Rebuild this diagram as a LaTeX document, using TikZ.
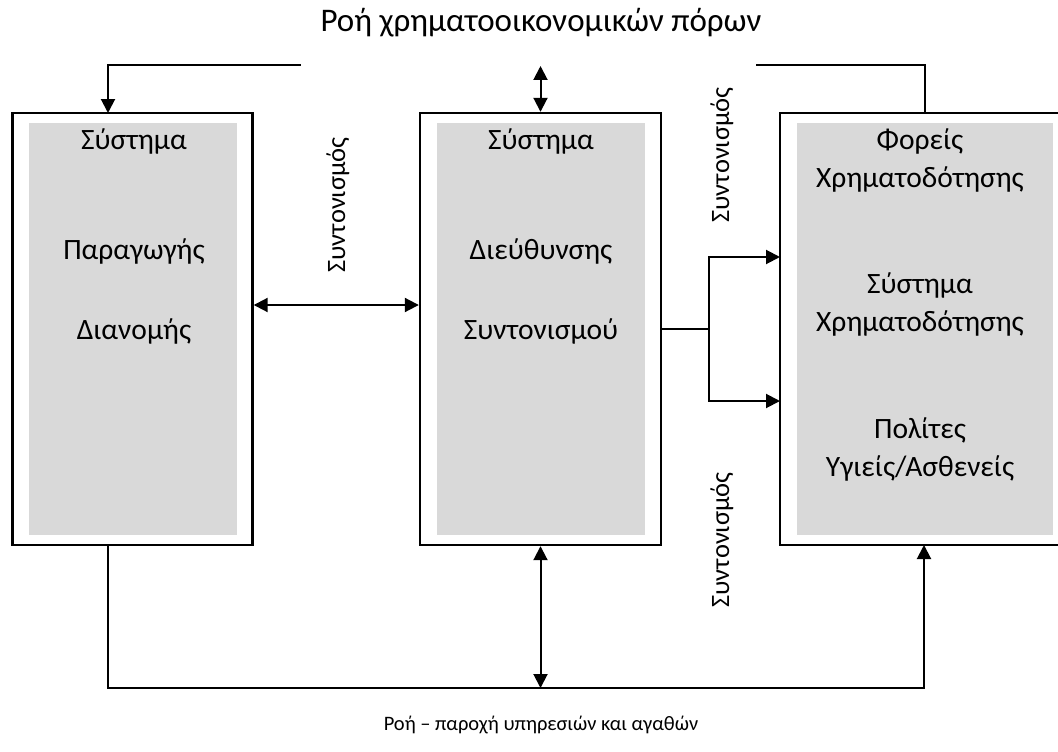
\documentclass[tikz,border=0pt]{standalone}
\usepackage{fontspec}
\setmainfont{Carlito}
\usetikzlibrary{arrows.meta}
\definecolor{boxgrey}{HTML}{D9D9D9}
\begin{document}
\begin{tikzpicture}[x=1pt,y=-1pt,
  outerbox/.style={draw=black, line width=2.4pt, fill=white, inner sep=0pt},
  innerbox/.style={fill=boxgrey, draw=none, inner sep=0pt},
  conn/.style={line width=2pt, line cap=rect},
  tipend/.style={-{Triangle[length=14pt,width=14pt]}},
  tipboth/.style={{Triangle[length=14pt,width=14pt]}-{Triangle[length=14pt,width=14pt]}},
  boxtext/.style={font=\fontsize{29.5}{34}\selectfont, align=center, inner sep=0pt},
  sidelabel/.style={font=\fontsize{26.5}{30}\selectfont, rotate=90, inner sep=0pt},
  flowlabel/.style={inner sep=0pt}]
\useasboundingbox (0,0) rectangle (1058,752);

% boxes
\node[outerbox, minimum width=240pt, minimum height=432pt] (b1) at (132.5,329) {};
\node[innerbox, minimum width=208pt, minimum height=412pt] (g1) at (133,329) {};
\node[outerbox, minimum width=241pt, minimum height=432pt] (b2) at (540.5,329) {};
\node[innerbox, minimum width=208pt, minimum height=412pt] (g2) at (541,329) {};
\node[outerbox, minimum width=289pt, minimum height=432pt] (b3) at (924.5,329) {};
\node[innerbox, minimum width=256pt, minimum height=412pt] (g3) at (925,329) {};

% box texts
\node[boxtext] (t11) at (134,141) {Σύστημα};
\node[boxtext] (t12) at (134,251) {Παραγωγής};
\node[boxtext] (t13) at (134,331) {Διανομής};
\node[boxtext] (t21) at (541,141) {Σύστημα};
\node[boxtext] (t22) at (541,251) {Διεύθυνσης};
\node[boxtext] (t23) at (541,331) {Συντονισμού};
\node[boxtext] (t31) at (920,160) {Φορείς\\[4pt]Χρηματοδότησης};
\node[boxtext] (t32) at (920,304) {Σύστημα\\[4pt]Χρηματοδότησης};
\node[boxtext] (t33) at (920,449) {Πολίτες\\[4pt]Υγιείς/Ασθενείς};

% flow labels
\node[flowlabel, font=\fontsize{33}{38}\selectfont] (top) at (541,23) {Ροή χρηματοοικονομικών πόρων};
\node[flowlabel, font=\fontsize{20.5}{24}\selectfont] (bot) at (541,725) {Ροή – παροχή υπηρεσιών και αγαθών};

% side labels
\node[sidelabel] (s1) at (338,205) {Συντονισμός};
\node[sidelabel] (s2) at (722,155) {Συντονισμός};
\node[sidelabel] (s3) at (722,540) {Συντονισμός};

% coordinates
\coordinate (tlend) at (300,65);
\coordinate (b1top) at (108,113);
\coordinate (topmid) at (540.5,66);
\coordinate (trend) at (757,65);
\coordinate (split) at (709,329);
\coordinate (a1) at (780,257);
\coordinate (a2) at (780,401);
\coordinate (lvl) at (0,305);
\coordinate (b1s) at (108,545);
\coordinate (bl) at (108,688);
\coordinate (br) at (924,688);
\coordinate (b3s) at (924,545);

% connectors
\draw[conn, tipend] (tlend) -| (b1top);
\draw[conn, tipboth] (topmid) -- (b2.north);
\draw[conn] (trend) -| (b3.north);
\draw[conn] (b2.east |- split) -- (split);
\draw[conn, tipend] (split) |- (a1);
\draw[conn, tipend] (split) |- (a2);
\draw[conn, tipboth] (b1.east |- lvl) -- (b2.west |- lvl);
\draw[conn, tipend] (b1s) -- (bl) -- (br) -- (b3s);
\draw[conn, tipboth] (b2.south) -- (b2.south |- bl);
\end{tikzpicture}
\end{document}
